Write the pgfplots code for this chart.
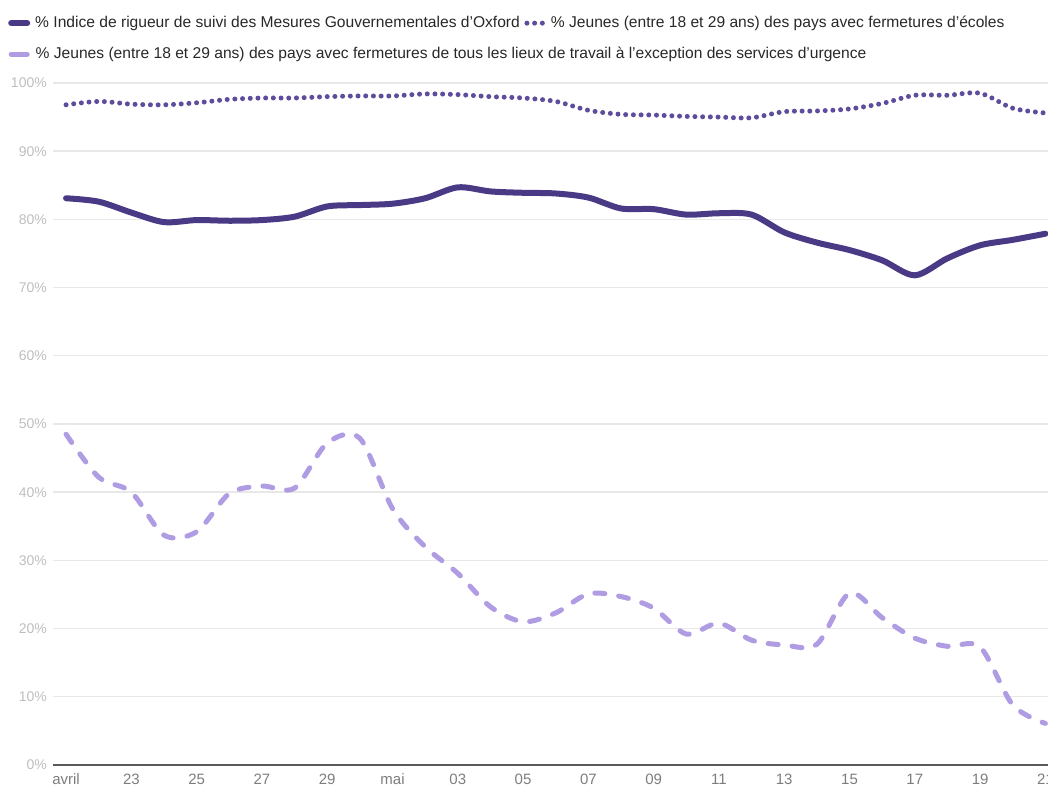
\documentclass[border=0pt]{standalone}
\usepackage{pgfplots}
\pgfplotsset{compat=1.18}
\usepackage{fontspec}
\setmainfont{Liberation Sans}
\definecolor{cdark}{RGB}{74,58,134}
\definecolor{cdot}{RGB}{94,76,156}
\definecolor{clight}{RGB}{176,156,226}
\definecolor{cgrid}{RGB}{232,232,232}
\definecolor{cbase}{RGB}{90,90,90}
\definecolor{cyl}{RGB}{190,190,190}
\definecolor{cxl}{RGB}{125,125,125}
\definecolor{ctext}{RGB}{40,40,40}
\begin{document}
\begin{tikzpicture}
\begin{axis}[
  at={(53pt,21pt)}, anchor=south west,
  scale only axis, width=995pt, height=682pt,
  xmin=-0.4, xmax=30.08, ymin=0, ymax=100,
  clip=false,
  axis line style={draw=none},
  major tick length=0pt,
  xtick={0,2,...,30},
  xticklabels={avril,23,25,27,29,mai,03,05,07,09,11,13,15,17,19,21},
  ytick={10,20,...,100},
  yticklabels={10\%,20\%,30\%,40\%,50\%,60\%,70\%,80\%,90\%,100\%},
  extra y ticks={0},
  extra y tick labels={0\%},
  extra y tick style={grid style={draw=cbase, line width=1.8pt}},
  ymajorgrids=true,
  grid style={draw=cgrid, line width=1.4pt},
  xticklabel style={font=\fontsize{15}{17}\selectfont, text=cxl, inner sep=0pt, anchor=north, yshift=-8.5pt},
  yticklabel style={font=\fontsize{14}{16}\selectfont, text=cyl, inner sep=0pt, anchor=east, xshift=-6pt},
  legend columns=2,
  legend cell align=left,
  legend style={at={(-0.0452,1.0983)}, anchor=north west, draw=none, fill=none,
    inner sep=0pt, row sep=17pt,
    font=\fontsize{15.6}{18}\selectfont, text=ctext,
    nodes={inner sep=0pt, text height=11pt, text depth=3pt},
    /tikz/every odd column/.style={column sep=5pt},
    /tikz/every even column/.style={column sep=4pt}},
  legend image code/.code={\path[draw=none,fill=none] (0pt,-3pt) rectangle (22pt,3pt); \draw[#1] (3pt,0pt) -- (19pt,0pt);},
]
\addplot[cdark, line width=6pt, line cap=round, smooth, tension=0.5] coordinates {
(0,83.1) (1,82.6) (2,81.0) (3,79.6) (4,79.9) (5,79.8) (6,79.9) (7,80.4) (8,81.9) (9,82.1)
(10,82.3) (11,83.1) (12,84.7) (13,84.1) (14,83.9) (15,83.8) (16,83.2) (17,81.6) (18,81.5) (19,80.7)
(20,80.9) (21,80.7) (22,78.1) (23,76.6) (24,75.5) (25,74.0) (26,71.8) (27,74.3) (28,76.2) (29,77.0) (30,77.9)
};
\addlegendentry{\% Indice de rigueur de suivi des Mesures Gouvernementales d’Oxford}
\addplot[cdot, line width=5pt, line cap=round, dash pattern=on 0pt off 7.7pt, smooth, tension=0.5] coordinates {
(0,96.8) (1,97.3) (2,96.9) (3,96.8) (4,97.1) (5,97.6) (6,97.8) (7,97.8) (8,98.0) (9,98.1)
(10,98.1) (11,98.4) (12,98.3) (13,98.0) (14,97.8) (15,97.3) (16,96.0) (17,95.4) (18,95.3) (19,95.1)
(20,95.0) (21,94.9) (22,95.8) (23,95.9) (24,96.2) (25,97.0) (26,98.2) (27,98.2) (28,98.5) (29,96.3) (30,95.6)
};
\addlegendentry{\% Jeunes (entre 18 et 29 ans) des pays avec fermetures d’écoles}
\addplot[clight, line width=5pt, line cap=round, dash pattern=on 10pt off 14pt, smooth, tension=0.5, legend image post style={solid}] coordinates {
(0,48.5) (1,42.2) (2,40.0) (3,33.7) (4,34.2) (5,39.8) (6,40.9) (7,40.6) (8,47.2) (9,47.9)
(10,37.6) (11,32.0) (12,28.1) (13,23.2) (14,21.0) (15,22.3) (16,25.1) (17,24.7) (18,23.0) (19,19.2)
(20,20.8) (21,18.3) (22,17.6) (23,17.7) (24,25.2) (25,21.6) (26,18.6) (27,17.4) (28,17.3) (29,8.8) (30,6.1)
};
\addlegendentry{\makebox[0pt][l]{\% Jeunes (entre 18 et 29 ans) des pays avec fermetures de tous les lieux de travail à l’exception des services d’urgence}}
\end{axis}
\pgfresetboundingbox
\path[use as bounding box] (0,0) rectangle (1048pt,786pt);
\end{tikzpicture}
\end{document}
